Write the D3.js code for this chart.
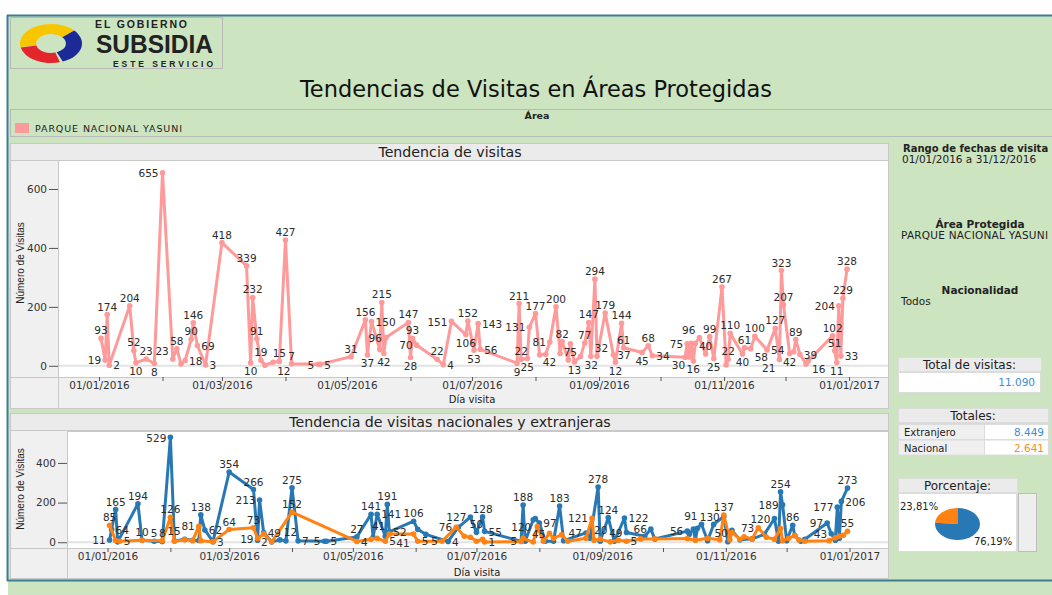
<!DOCTYPE html>
<html><head><meta charset="utf-8">
<script src="https://cdn.jsdelivr.net/npm/d3@7"></script>
<style>
html,body{margin:0;padding:0;background:#fff;}
svg{display:block;font-family:"DejaVu Sans",Verdana,sans-serif;}
</style></head><body>
<svg id="c" width="1052" height="595"></svg>
<script>
// ---------------- DATA ----------------
const totalDates = ["2016-01-02","2016-01-04","2016-01-05","2016-01-06","2016-01-16","2016-01-18","2016-01-19","2016-01-24","2016-01-28","2016-02-01","2016-02-06","2016-02-08","2016-02-10","2016-02-12","2016-02-15","2016-02-16","2016-02-18","2016-02-22","2016-03-01","2016-03-13","2016-03-15","2016-03-16","2016-03-18","2016-03-20","2016-03-22","2016-03-26","2016-03-29","2016-04-01","2016-04-04","2016-04-17","2016-04-18","2016-05-03","2016-05-10","2016-05-11","2016-05-13","2016-05-17","2016-05-18","2016-05-19","2016-05-20","2016-05-31","2016-06-01","2016-06-02","2016-06-04","2016-06-14","2016-06-17","2016-06-21","2016-06-28","2016-06-29","2016-07-02","2016-07-04","2016-07-05","2016-07-23","2016-07-24","2016-07-25","2016-07-28","2016-07-29","2016-08-01","2016-08-03","2016-08-06","2016-08-08","2016-08-11","2016-08-13","2016-08-14","2016-08-17","2016-08-18","2016-08-20","2016-08-23","2016-08-25","2016-08-27","2016-08-28","2016-08-30","2016-08-31","2016-09-04","2016-09-08","2016-09-09","2016-09-12","2016-09-13","2016-09-22","2016-09-25","2016-09-27","2016-10-13","2016-10-14","2016-10-15","2016-10-16","2016-10-17","2016-10-18","2016-10-20","2016-10-23","2016-10-25","2016-10-27","2016-10-31","2016-11-02","2016-11-03","2016-11-04","2016-11-10","2016-11-11","2016-11-14","2016-11-16","2016-11-22","2016-11-26","2016-11-28","2016-11-29","2016-11-30","2016-12-03","2016-12-05","2016-12-06","2016-12-08","2016-12-11","2016-12-12","2016-12-24","2016-12-25","2016-12-26","2016-12-27","2016-12-28","2016-12-29","2016-12-31"];
const totalValues = [93,19,174,2,204,52,10,23,8,655,23,58,6,18,90,146,69,3,418,339,10,232,91,19,2,12,15,427,7,5,5,31,156,37,150,55,215,42,96,147,28,93,70,22,4,151,106,152,53,143,56,9,211,22,25,131,177,37,39,81,200,42,82,20,75,13,32,77,147,32,294,32,179,37,12,144,61,45,68,34,29,75,30,76,16,76,96,40,99,25,267,3,22,110,40,61,58,100,54,127,21,323,207,42,48,89,39,6,16,102,51,11,204,33,229,328];

const extDates = ["2016-01-02","2016-01-03","2016-01-05","2016-01-06","2016-01-16","2016-01-18","2016-01-24","2016-01-28","2016-02-01","2016-02-03","2016-02-08","2016-02-12","2016-02-15","2016-02-16","2016-02-18","2016-02-22","2016-03-01","2016-03-13","2016-03-15","2016-03-16","2016-03-18","2016-03-22","2016-03-26","2016-03-29","2016-04-01","2016-04-04","2016-04-17","2016-04-18","2016-05-03","2016-05-10","2016-05-11","2016-05-13","2016-05-17","2016-05-18","2016-05-19","2016-05-31","2016-06-02","2016-06-06","2016-06-17","2016-06-22","2016-06-28","2016-07-01","2016-07-04","2016-07-05","2016-07-23","2016-07-24","2016-07-25","2016-07-29","2016-07-30","2016-08-01","2016-08-04","2016-08-08","2016-08-11","2016-08-13","2016-08-24","2016-08-26","2016-08-30","2016-08-31","2016-09-04","2016-09-07","2016-09-12","2016-09-13","2016-09-22","2016-09-25","2016-09-27","2016-10-13","2016-10-14","2016-10-16","2016-10-17","2016-10-18","2016-10-20","2016-10-23","2016-10-26","2016-10-31","2016-11-02","2016-11-04","2016-11-08","2016-11-14","2016-11-20","2016-11-25","2016-11-27","2016-11-28","2016-11-29","2016-12-01","2016-12-04","2016-12-05","2016-12-08","2016-12-10","2016-12-21","2016-12-23","2016-12-25","2016-12-26","2016-12-27","2016-12-28","2016-12-31"];
const extValues = [11,64,165,2,194,10,5,4,529,7,15,10,9,138,62,3,354,266,10,213,49,2,12,7,275,7,5,5,27,141,25,141,30,191,52,106,65,40,4,75,127,50,128,55,5,188,5,113,120,97,5,5,183,8,47,20,278,5,124,5,122,49,30,66,16,56,40,67,12,70,91,8,90,130,3,60,12,17,40,120,5,254,189,8,86,34,5,15,97,43,10,177,20,206,273];

const nacDates = ["2016-01-02","2016-01-05","2016-01-07","2016-01-18","2016-01-28","2016-02-01","2016-02-03","2016-02-08","2016-02-12","2016-02-15","2016-02-16","2016-02-22","2016-03-01","2016-03-13","2016-03-15","2016-03-18","2016-03-22","2016-04-01","2016-05-03","2016-05-10","2016-05-13","2016-05-17","2016-05-19","2016-05-31","2016-06-02","2016-06-14","2016-06-21","2016-06-25","2016-06-28","2016-07-01","2016-07-04","2016-07-05","2016-07-23","2016-07-24","2016-07-29","2016-07-31","2016-08-03","2016-08-06","2016-08-08","2016-08-12","2016-08-15","2016-08-24","2016-08-27","2016-08-28","2016-08-31","2016-09-05","2016-09-09","2016-09-13","2016-09-20","2016-09-27","2016-10-13","2016-10-17","2016-10-23","2016-10-29","2016-10-31","2016-11-03","2016-11-04","2016-11-08","2016-11-10","2016-11-14","2016-11-17","2016-11-21","2016-11-25","2016-11-28","2016-11-29","2016-12-02","2016-12-05","2016-12-07","2016-12-10","2016-12-22","2016-12-25","2016-12-27","2016-12-29","2016-12-31"];
const nacValues = [85,9,5,10,8,126,5,12,8,81,8,3,64,73,19,42,2,152,4,15,20,5,41,41,5,5,76,30,25,5,15,1,4,20,1,79,5,45,20,38,5,20,121,10,16,2,10,5,17,17,19,10,20,13,137,12,50,15,28,17,73,25,15,69,8,20,34,12,5,8,23,30,35,55];

const xTickDates = ["2016-01-01","2016-02-01","2016-03-01","2016-04-01","2016-05-01","2016-06-01","2016-07-01","2016-08-01","2016-09-01","2016-10-01","2016-11-01","2016-12-01","2017-01-01"];
const yTicksTop = [0,200,400,600];
const yTicksBottom = [0,200,400];

const totalsLabels = ["Extranjero","Nacional"];
const totalsValues = [8449,2641];

// ---------------- SETUP ----------------
const W=1052,H=595;
const svg=d3.select("#c");
const green="#cde4c0", teal="#3b7d93", border="#b9b9b9";
const pink="#ff9a9a", blue="#2778b4", orange="#ff8213";
const parse=d3.timeParse("%Y-%m-%d");
const fmtDate=d3.timeFormat("%d/%m/%Y");
const loc=d3.formatLocale({decimal:",",thousands:".",grouping:[3],currency:["$",""]});

svg.append("rect").attr("width",W).attr("height",H).attr("fill","#fff");
svg.append("rect").attr("x",8).attr("y",16).attr("width",W-8).attr("height",H-16).attr("fill",green);
svg.append("line").attr("x1",7).attr("x2",W).attr("y1",15.5).attr("y2",15.5).attr("stroke",teal).attr("stroke-width",2);
svg.append("line").attr("x1",7.5).attr("x2",7.5).attr("y1",15).attr("y2",581).attr("stroke",teal).attr("stroke-width",2);
svg.append("line").attr("x1",7).attr("x2",W).attr("y1",580.5).attr("y2",580.5).attr("stroke",teal).attr("stroke-width",2);

// ---- logo ----
svg.append("rect").attr("x",10.5).attr("y",17.5).attr("width",212).attr("height",51).attr("fill",green).attr("stroke",border);
const lg=svg.append("g").attr("transform","translate(51,43.5) scale(1,0.63)");
const ring=d3.arc().innerRadius(15).outerRadius(31);
lg.append("path").attr("d",ring({startAngle:-1.75,endAngle:0.85})).attr("fill","#f7c600");
lg.append("path").attr("d",ring({startAngle:0.85,endAngle:2.75})).attr("fill","#1b2a96");
lg.append("path").attr("d",ring({startAngle:2.85,endAngle:4.5})).attr("fill","#e2262b");
svg.append("text").attr("x",95).attr("y",27.5).attr("font-family","Liberation Sans, Arial").attr("font-weight","bold").attr("font-size",10.5).attr("textLength",92).attr("fill","#222").text("EL GOBIERNO");
svg.append("text").attr("x",96).attr("y",53).attr("font-family","Liberation Sans Narrow, Liberation Sans, Arial").attr("font-weight","bold").attr("font-size",25).attr("textLength",117).attr("lengthAdjust","spacingAndGlyphs").attr("fill","#222").text("SUBSIDIA");
svg.append("text").attr("x",113).attr("y",66.5).attr("font-family","Liberation Sans, Arial").attr("font-weight","bold").attr("font-size",8.5).attr("textLength",100).attr("fill","#222").text("ESTE SERVICIO");

// ---- title ----
svg.append("text").attr("x",536).attr("y",97).attr("text-anchor","middle").attr("font-size",22.5).attr("fill","#111").text("Tendencias de Visitas en Áreas Protegidas");

// ---- legend box ----
svg.append("rect").attr("x",10.5).attr("y",109.5).attr("width",W).attr("height",27).attr("fill",green).attr("stroke",border);
svg.append("text").attr("x",537).attr("y",119).attr("text-anchor","middle").attr("font-size",9.5).attr("font-weight","bold").attr("fill","#222").text("Área");
svg.append("rect").attr("x",15).attr("y",123).attr("width",14).attr("height",10).attr("fill",pink);
svg.append("text").attr("x",35).attr("y",131.5).attr("font-size",9.5).attr("textLength",147).attr("fill","#222").text("PARQUE NACIONAL YASUNI");

// ---- right panel ----
const rp=svg.append("g").attr("font-size",10.5).attr("fill","#222");
rp.append("text").attr("x",903).attr("y",152).attr("font-weight","bold").attr("font-size",10).text("Rango de fechas de visita");
rp.append("text").attr("x",902).attr("y",163).text("01/01/2016 a 31/12/2016");
rp.append("text").attr("x",980).attr("y",228).attr("text-anchor","middle").attr("font-weight","bold").text("Área Protegida");
rp.append("text").attr("x",901).attr("y",239).attr("textLength",147).text("PARQUE NACIONAL YASUNI");
rp.append("text").attr("x",980).attr("y",294).attr("text-anchor","middle").attr("font-weight","bold").text("Nacionalidad");
rp.append("text").attr("x",901).attr("y",305).text("Todos");

function header(x,y,w,h,t){
  svg.append("rect").attr("x",x+.5).attr("y",y+.5).attr("width",w).attr("height",h).attr("fill","#ebebeb").attr("stroke","#dcdcdc");
  svg.append("text").attr("x",x+w/2).attr("y",y+h/2+4.5).attr("text-anchor","middle").attr("font-size",12).attr("fill","#222").text(t);
}
const total=d3.sum(totalsValues);
header(898,357,143,14,"Total de visitas:");
svg.append("rect").attr("x",898.5).attr("y",372.5).attr("width",142).attr("height",20).attr("fill","#fff").attr("stroke","#dcdcdc");
svg.append("text").attr("x",1035).attr("y",386).attr("text-anchor","end").attr("font-size",10.5).attr("fill","#3d8dd6").text(loc.format(",")(total));
header(898,408,150,14,"Totales:");
const valColors=["#3d8dd6","#ff8a1c"];
totalsLabels.forEach((l,i)=>{
  const y=424+i*15.5;
  svg.append("rect").attr("x",898.5).attr("y",y+.5).attr("width",86).attr("height",15).attr("fill","#efefef").attr("stroke","#dcdcdc");
  svg.append("rect").attr("x",984.5).attr("y",y+.5).attr("width",64).attr("height",15).attr("fill","#fff").attr("stroke","#dcdcdc");
  svg.append("text").attr("x",904).attr("y",y+12).attr("font-size",10).attr("fill","#222").text(l);
  svg.append("text").attr("x",1044).attr("y",y+12).attr("text-anchor","end").attr("font-size",10.5).attr("fill",valColors[i]).text(loc.format(",")(totalsValues[i]));
});
header(898,478,119,14,"Porcentaje:");
svg.append("rect").attr("x",898.5).attr("y",493.5).attr("width",118).attr("height",58).attr("fill","#fff").attr("stroke","#dcdcdc");
svg.append("rect").attr("x",1018.5).attr("y",493.5).attr("width",18).attr("height",58).attr("fill","#eeeeee").attr("stroke","#bdbdbd");
const pieIdx=[1,0];
const pie=d3.pie().sort(null).value(i=>totalsValues[i]).startAngle(-2*Math.PI*totalsValues[1]/total).endAngle(2*Math.PI-2*Math.PI*totalsValues[1]/total);
const pg=svg.append("g").attr("transform","translate(957.5,524) scale(1,0.71)");
const parc=d3.arc().innerRadius(0).outerRadius(22.5);
pg.selectAll("path").data(pie(pieIdx)).join("path").attr("d",parc).attr("fill",d=>d.data===0?blue:orange);
const pfmt=loc.format(".2%");
svg.append("text").attr("x",900).attr("y",510).attr("font-size",10).attr("fill","#222").text(pfmt(totalsValues[1]/total));
svg.append("text").attr("x",974).attr("y",545).attr("font-size",10).attr("fill","#222").text(pfmt(totalsValues[0]/total));

// ---------------- CHART HELPERS ----------------
const domainX=[new Date(2015,11,12),new Date(2017,0,20)];
const monthTicks=xTickDates.map(parse);

function panel(o){
  svg.append("rect").attr("x",10.5).attr("y",o.top+.5).attr("width",878).attr("height",o.bottom-o.top).attr("fill","#f0f0f0").attr("stroke","#c8c8c8");
  svg.append("rect").attr("x",10.5).attr("y",o.top+.5).attr("width",878).attr("height",17).attr("fill","#ebebeb").attr("stroke","#c8c8c8");
  svg.append("text").attr("x",450).attr("y",o.top+13.5).attr("text-anchor","middle").attr("font-size",14.2).attr("fill","#222").text(o.title);
  svg.append("rect").attr("x",o.px0+.5).attr("y",o.py0+.5).attr("width",888-o.px0).attr("height",o.py1-o.py0).attr("fill","#fff").attr("stroke","#c8c8c8");
  svg.append("line").attr("x1",o.px0+.5).attr("x2",o.px0+.5).attr("y1",o.py1).attr("y2",o.bottom).attr("stroke","#c8c8c8");
  svg.append("line").attr("x1",10).attr("x2",o.px0).attr("y1",o.py1+.5).attr("y2",o.py1+.5).attr("stroke","#c8c8c8");
}

function axes(x,y,o,yTicks){
  svg.append("line").attr("x1",o.px0+1).attr("x2",888).attr("y1",y(0)).attr("y2",y(0)).attr("stroke","#e3e3e3").attr("stroke-width",2);
  const ax=svg.append("g").attr("transform",`translate(0,${o.py1})`)
    .call(d3.axisBottom(x).tickValues(monthTicks).tickSize(4).tickPadding(1).tickFormat((d,i)=>i%2===0?fmtDate(d):""));
  ax.select(".domain").remove();
  ax.selectAll("line").attr("stroke","#555");
  ax.selectAll("text").attr("font-size",10.5).attr("fill","#333").attr("font-family","DejaVu Sans");
  const ay=svg.append("g").attr("transform",`translate(${o.px0},0)`)
    .call(d3.axisLeft(y).tickValues(yTicks).tickSize(9).tickPadding(2));
  ay.select(".domain").remove();
  ay.selectAll("line").attr("stroke","#555");
  ay.selectAll("text").attr("font-size",10.5).attr("fill","#333").attr("font-family","DejaVu Sans");
  svg.append("text").attr("x",o.xtx).attr("y",o.xty).attr("text-anchor","middle").attr("font-size",10).attr("fill","#222").text("Día visita");
  svg.append("text").attr("transform",`translate(${o.ytx},${o.yty}) rotate(-90)`).attr("text-anchor","middle")
    .attr("font-family","Liberation Sans Narrow, Arial Narrow, sans-serif").attr("font-size",10).attr("fill","#222").text("Número de Visitas");
}

function drawSeries(g,pts,color){
  g.append("path").attr("d",d3.line().x(d=>d.x).y(d=>d.y)(pts)).attr("fill","none").attr("stroke",color).attr("stroke-width",3).attr("stroke-linejoin","round");
  g.selectAll(null).data(pts).join("circle").attr("cx",d=>d.x).attr("cy",d=>d.y).attr("r",2.8).attr("fill",color);
}

function labels(g,pts,o){
  const fs=10.5, placed=pts.map(p=>({x0:p.x-2.5,x1:p.x+2.5,y0:p.y-2.5,y1:p.y+2.5}));
  const order=pts.slice().sort((a,b)=>b.v-a.v);
  order.forEach(p=>{
    const t=String(p.v), w=t.length*fs*0.636, h=fs*0.8;
    const up=[0,-1],dn=[0,1],rt=[1,0],lf=[-1,0];
    const c=p.lmin?[dn,rt,lf,up,[1,1],[-1,1],[1,-1],[-1,-1]]:[up,lf,rt,dn,[1,-1],[-1,-1],[1,1],[-1,1]];
    for(const [dx,dy] of c){
      const cx=p.x+dx*(w/2+4), cy=p.y+dy*(h/2+4);
      const b={x0:cx-w/2,x1:cx+w/2,y0:cy-h/2,y1:cy+h/2};
      if(b.x0<o.px0+1||b.x1>887||b.y0<o.py0+1||b.y1>o.py1-1) continue;
      if(placed.some(q=>!(b.x1<q.x0||b.x0>q.x1||b.y1<q.y0||b.y0>q.y1))) continue;
      placed.push(b);
      g.append("text").attr("x",cx).attr("y",cy+h/2).attr("text-anchor","middle").attr("font-size",fs).attr("fill","#2b2b2b").text(t);
      break;
    }
  });
}

function mkPts(dates,vals,x,y){
  const pts=dates.map((d,i)=>({x:x(parse(d)),y:y(vals[i]),v:vals[i]}));
  pts.forEach((p,i)=>{const a=pts[i-1],b=pts[i+1];p.lmin=(!a||p.v<=a.v)&&(!b||p.v<=b.v);});
  return pts;
}

// ---------------- TOP CHART ----------------
const oT={top:143,bottom:408,px0:58,py0:160,py1:377,title:"Tendencia de visitas",xtx:472,xty:403,ytx:24,yty:263};
panel(oT);
const xT=d3.scaleTime().domain(domainX).range([58,888]);
const yT=d3.scaleLinear().domain([-38,695]).range([377,161]);
axes(xT,yT,oT,yTicksTop);
const gT=svg.append("g");
const ptsT=mkPts(totalDates,totalValues,xT,yT);
drawSeries(gT,ptsT,pink);
labels(gT,ptsT,oT);

// ---------------- BOTTOM CHART ----------------
const oB={top:413,bottom:578,px0:67,py0:431,py1:548,title:"Tendencia de visitas nacionales y extranjeras",xtx:477,xty:576,ytx:24,yty:489};
panel(oB);
const xB=d3.scaleTime().domain(domainX).range([67,888]);
const yB=d3.scaleLinear().domain([-29,556]).range([548,432]);
axes(xB,yB,oB,yTicksBottom);
const gB=svg.append("g");
const ptsE=mkPts(extDates,extValues,xB,yB), ptsN=mkPts(nacDates,nacValues,xB,yB);
drawSeries(gB,ptsE,blue);
drawSeries(gB,ptsN,orange);
labels(gB,ptsE.concat(ptsN),oB);
</script>
</body></html>
